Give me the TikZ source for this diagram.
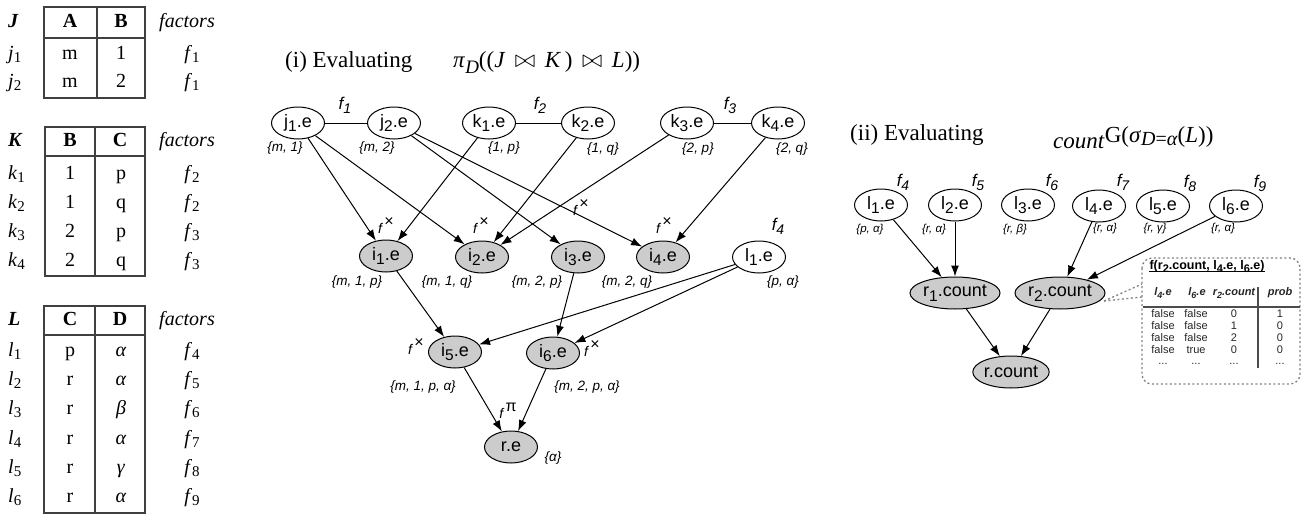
\documentclass[tikz,border=0pt]{standalone}
\usepackage{fontspec}
\setmainfont{Liberation Serif}
\newfontfamily\hv{Liberation Sans}
\usetikzlibrary{shapes.geometric,arrows.meta}
\newcommand\lw[3]{\raisebox{#1}{\fontsize{#2}{#2}\selectfont #3}}
\newcommand\fsub[1]{\textit{f}\lw{-4pt}{14}{\textit{#1}}}
\newcommand\tfsub[1]{\textit{f}\lw{-3pt}{15}{#1}}
\newcommand\tsub[2]{\textit{#1}\lw{-3pt}{15}{#2}}
\newcommand\nsub[2]{#1\lw{-4.5pt}{15.5}{#2}}
\newcommand\fxl{f\,\lw{7pt}{16}{\upshape ×}}
\newcommand\trow[6]{%
 \node[tb,anchor=west] (#1a) at (8,#2) {#3};
 \node[tb] (#1b) at (70,#2) {#4};
 \node[tb] (#1c) at (121,#2) {#5};
 \node[tb] (#1d) at (192,#2) {#6};}
\begin{document}
\begin{tikzpicture}[x=1pt,y=-1pt,
 tb/.style={font=\fontsize{20}{22}\selectfont, text height=13pt, text depth=4pt, inner sep=0pt},
 tline/.style={line width=1.3pt, draw=black!75},
 nd/.style={ellipse, draw, line width=1pt, minimum width=53pt, minimum height=32pt, inner sep=0pt, font=\hv\fontsize{18}{20}\selectfont},
 gnd/.style={nd, fill=black!20},
 cnd/.style={gnd, minimum width=84pt},
 setl/.style={font=\hv\itshape\fontsize{13.5}{15}\selectfont, inner sep=0pt},
 setm/.style={font=\hv\itshape\fontsize{11.5}{13}\selectfont, inner sep=0pt},
 fl/.style={font=\hv\itshape\fontsize{17}{19}\selectfont, inner sep=0pt},
 fx/.style={font=\hv\itshape\fontsize{14}{16}\selectfont, inner sep=0pt},
 ttl/.style={font=\fontsize{23}{26}\selectfont, inner sep=0pt, anchor=base west},
 arr/.style={-{Latex[length=11pt,width=8pt]}, line width=1pt},
 ln/.style={line width=1pt},
 dotl/.style={draw=black!50, line width=1.3pt, dash pattern=on 2pt off 2.5pt},
 bx/.style={font=\hv\fontsize{11}{12}\selectfont, text=black!85, inner sep=0pt, text height=8pt, text depth=2pt},
 bxh/.style={font=\hv\bfseries\itshape\fontsize{11}{12}\selectfont, text=black!85, inner sep=0pt},
]
\useasboundingbox (0,0) rectangle (1304,514);

% ---------- tables ----------
\draw[tline] (44,7) rectangle (145,98);
\draw[tline] (97,7) -- (97,98);
\draw[tline] (44,38) -- (145,38);
\node[tb,anchor=west] (Jh) at (8,23) {\textbf{\textit{J}}};
\node[tb] (JA) at (70,23) {\textbf{A}};
\node[tb] (JB) at (121,23) {\textbf{B}};
\node[tb] (Jf) at (187,23) {\textit{factors}};
\trow{jr1}{55}{\tsub{j}{1}}{m}{1}{\tfsub{1}}
\trow{jr2}{83}{\tsub{j}{2}}{m}{2}{\tfsub{1}}

\draw[tline] (45,127) rectangle (145,276);
\draw[tline] (95,127) -- (95,276);
\draw[tline] (45,156) -- (145,156);
\node[tb,anchor=west] (Kh) at (8,142) {\textbf{\textit{K}}};
\node[tb] (KB) at (70,142) {\textbf{B}};
\node[tb] (KC) at (120,142) {\textbf{C}};
\node[tb] (Kf) at (187,142) {\textit{factors}};
\trow{kr1}{175}{\tsub{k}{1}}{1}{p}{\tfsub{2}}
\trow{kr2}{204}{\tsub{k}{2}}{1}{q}{\tfsub{2}}
\trow{kr3}{233}{\tsub{k}{3}}{2}{p}{\tfsub{3}}
\trow{kr4}{262}{\tsub{k}{4}}{2}{q}{\tfsub{3}}

\draw[tline] (44,306) rectangle (145,513);
\draw[tline] (95,306) -- (95,513);
\draw[tline] (44,335) -- (145,335);
\node[tb,anchor=west] (Lh) at (8,321) {\textbf{\textit{L}}};
\node[tb] (LC) at (70,321) {\textbf{C}};
\node[tb] (LD) at (120,321) {\textbf{D}};
\node[tb] (Lf) at (187,321) {\textit{factors}};
\trow{lr1}{352}{\tsub{l}{1}}{p}{\textit{α}}{\tfsub{4}}
\trow{lr2}{381}{\tsub{l}{2}}{r}{\textit{α}}{\tfsub{5}}
\trow{lr3}{410}{\tsub{l}{3}}{r}{\textit{β}}{\tfsub{6}}
\trow{lr4}{440}{\tsub{l}{4}}{r}{\textit{α}}{\tfsub{7}}
\trow{lr5}{469}{\tsub{l}{5}}{r}{\textit{γ}}{\tfsub{8}}
\trow{lr6}{498}{\tsub{l}{6}}{r}{\textit{α}}{\tfsub{9}}

% ---------- (i) ----------
\node[ttl] (t1) at (285,67) {(i) Evaluating};
\node[ttl] (t1m) at (453,67) {\textit{π}\lw{-6pt}{19}{\textit{D}}((\textit{J}\, $\bowtie$\, \textit{K}\,)\, $\bowtie$\, \textit{L}))};

\node[nd] (j1) at (298,123) {\nsub{j}{1}.e};
\node[nd] (j2) at (394,123) {\nsub{j}{2}.e};
\node[nd] (k1) at (489,123) {\nsub{k}{1}.e};
\node[nd] (k2) at (588,123) {\nsub{k}{2}.e};
\node[nd] (k3) at (687,123) {\nsub{k}{3}.e};
\node[nd] (k4) at (778,123) {\nsub{k}{4}.e};
\node[fl] (f1) at (345,105) {\fsub{1}};
\node[fl] (f2) at (540,105) {\fsub{2}};
\node[fl] (f3) at (730,105) {\fsub{3}};
\node[setl] (sj1) at (285,148) {\{m, 1\}};
\node[setl] (sj2) at (377,148) {\{m, 2\}};
\node[setl] (sk1) at (504,148) {\{1, p\}};
\node[setl] (sk2) at (603,149) {\{1, q\}};
\node[setl] (sk3) at (698,149) {\{2, p\}};
\node[setl] (sk4) at (792,149) {\{2, q\}};

\node[gnd] (i1) at (386,256) {\nsub{i}{1}.e};
\node[gnd] (i2) at (482,257) {\nsub{i}{2}.e};
\node[gnd] (i3) at (578,257) {\nsub{i}{3}.e};
\node[gnd] (i4) at (663,257) {\nsub{i}{4}.e};
\node[nd] (la) at (759,257) {\nsub{l}{1}.e};
\node[fx] (fx1) at (386,226) {\fxl};
\node[fx] (fx2) at (481,226) {\fxl};
\node[fx] (fx3) at (581,208) {\fxl};
\node[fx] (fx4) at (664,226) {\fxl};
\node[fl] (f4a) at (778,226) {\fsub{4}};
\node[setl] (si1) at (357,282) {\{m, 1, p\}};
\node[setl] (si2) at (447,282) {\{m, 1, q\}};
\node[setl] (si3) at (537,282) {\{m, 2, p\}};
\node[setl] (si4) at (627,282) {\{m, 2, q\}};
\node[setl] (sla) at (783,282) {\{p, α\}};

\node[gnd] (i5) at (455,352) {\nsub{i}{5}.e};
\node[gnd] (i6) at (553,353) {\nsub{i}{6}.e};
\node[fx] (fx5) at (416,347) {\fxl};
\node[fx] (fx6) at (592,349) {\fxl};
\node[setl] (si5) at (423,387) {\{m, 1, p, α\}};
\node[setl] (si6) at (587,387) {\{m, 2, p, α\}};

\node[gnd] (r) at (511,447) {r.e};
\node[fx] (fp) at (508,411) {f\,\lw{7pt}{16}{\upshape π}};
\node[setl] (sr) at (553,458) {\{α\}};

\draw[ln] (j1) -- (j2);
\draw[ln] (k1) -- (k2);
\draw[ln] (k3) -- (k4);
\draw[arr] (j1) -- (i1);
\draw[arr] (j1) -- (i2);
\draw[arr] (k1) -- (i1);
\draw[arr] (k2) -- (i2);
\draw[arr] (k3) -- (i2);
\draw[arr] (j2) -- (i3);
\draw[arr] (j2) -- (i4);
\draw[arr] (k4) -- (i4);
\draw[arr] (i1) -- (i5);
\draw[arr] (i3) -- (i6);
\draw[arr] (la) -- (i5);
\draw[arr] (la) -- (i6);
\draw[arr] (i5) -- (r);
\draw[arr] (i6) -- (r);

% ---------- (ii) ----------
\node[ttl] (t2) at (850,140) {(ii) Evaluating};
\node[ttl] (t2m) at (1053,148) {\textit{count}\raisebox{6pt}{G(\textit{σ}\lw{-3pt}{20}{\textit{D}=\textit{α}}(\textit{L}))}};

\node[nd] (m1) at (881,205) {\nsub{l}{1}.e};
\node[nd] (m2) at (955,205) {\nsub{l}{2}.e};
\node[nd] (m3) at (1028,205) {\nsub{l}{3}.e};
\node[nd] (m4) at (1099,206) {\nsub{l}{4}.e};
\node[nd] (m5) at (1163,206) {\nsub{l}{5}.e};
\node[nd] (m6) at (1236,206) {\nsub{l}{6}.e};
\node[fl] (g4) at (903,182) {\fsub{4}};
\node[fl] (g5) at (978,182) {\fsub{5}};
\node[fl] (g6) at (1052,182) {\fsub{6}};
\node[fl] (g7) at (1123,182) {\fsub{7}};
\node[fl] (g8) at (1190,183) {\fsub{8}};
\node[fl] (g9) at (1260,183) {\fsub{9}};
\node[setm] (s1) at (870,230) {\{p, α\}};
\node[setm] (s2) at (934,230) {\{r, α\}};
\node[setm] (s3) at (1015,230) {\{r, β\}};
\node[setm] (s4) at (1105,229) {\{r, α\}};
\node[setm] (s5) at (1155,229) {\{r, γ\}};
\node[setm] (s6) at (1223,229) {\{r, α\}};

\node[cnd, minimum width=87pt] (r1) at (955,293) {\nsub{r}{1}.count};
\node[cnd, minimum width=80pt] (r2) at (1060,293) {\nsub{r}{2}.count};
\node[cnd, minimum width=72pt] (rc) at (1011,372) {r.count};

\draw[arr] (m1) -- (r1);
\draw[arr] (m2) -- (r1);
\draw[arr] (m4) -- (r2);
\draw[arr] (m6) -- (r2);
\draw[arr] (r1) -- (rc);
\draw[arr] (r2) -- (rc);

% callout box
\coordinate (c0) at (1104,301);
\coordinate (ca) at (1142,284);
\coordinate (cb) at (1142,297);
\draw[dotl] (c0) -- (ca);
\draw[dotl] (c0) -- (cb);
\draw[dotl, rounded corners=10pt] (1142,258) rectangle (1300,384);
\node[font=\hv\bfseries\fontsize{12.5}{14}\selectfont, inner sep=0pt, anchor=base] (bt) at (1207,269) {f(r\lw{-3pt}{11}{2}.count, l\lw{-3pt}{11}{4}.e, l\lw{-3pt}{11}{6}.e)};
\draw[line width=0.8pt] ([yshift=-2pt]bt.base west) -- ([yshift=-2pt]bt.base east);
\node[bxh] (h1) at (1163,293) {l\lw{-3pt}{9}{4}.e};
\node[bxh] (h2) at (1197,293) {l\lw{-3pt}{9}{6}.e};
\node[bxh] (h3) at (1234,293) {r\lw{-3pt}{9}{2}.count};
\node[bxh] (h4) at (1280,293) {prob};
\draw[line width=1.2pt, black!70] (1143,307) -- (1300,307);
\draw[line width=1.2pt, black!70] (1258,287) -- (1258,368);
\node[bx] (a1) at (1163,314) {false};
\node[bx] (b1) at (1196,314) {false};
\node[bx] (c1) at (1234,314) {0};
\node[bx] (d1) at (1280,314) {1};
\node[bx] (a2) at (1163,326) {false};
\node[bx] (b2) at (1196,326) {false};
\node[bx] (c2) at (1234,326) {1};
\node[bx] (d2) at (1280,326) {0};
\node[bx] (a3) at (1163,338) {false};
\node[bx] (b3) at (1196,338) {false};
\node[bx] (c3) at (1234,338) {2};
\node[bx] (d3) at (1280,338) {0};
\node[bx] (a4) at (1163,350) {false};
\node[bx] (b4) at (1196,350) {true};
\node[bx] (c4) at (1234,350) {0};
\node[bx] (d4) at (1280,350) {0};
\node[bx] (a5) at (1163,361) {...};
\node[bx] (b5) at (1196,361) {...};
\node[bx] (c5) at (1234,361) {...};
\node[bx] (d5) at (1280,361) {...};
\end{tikzpicture}
\end{document}
